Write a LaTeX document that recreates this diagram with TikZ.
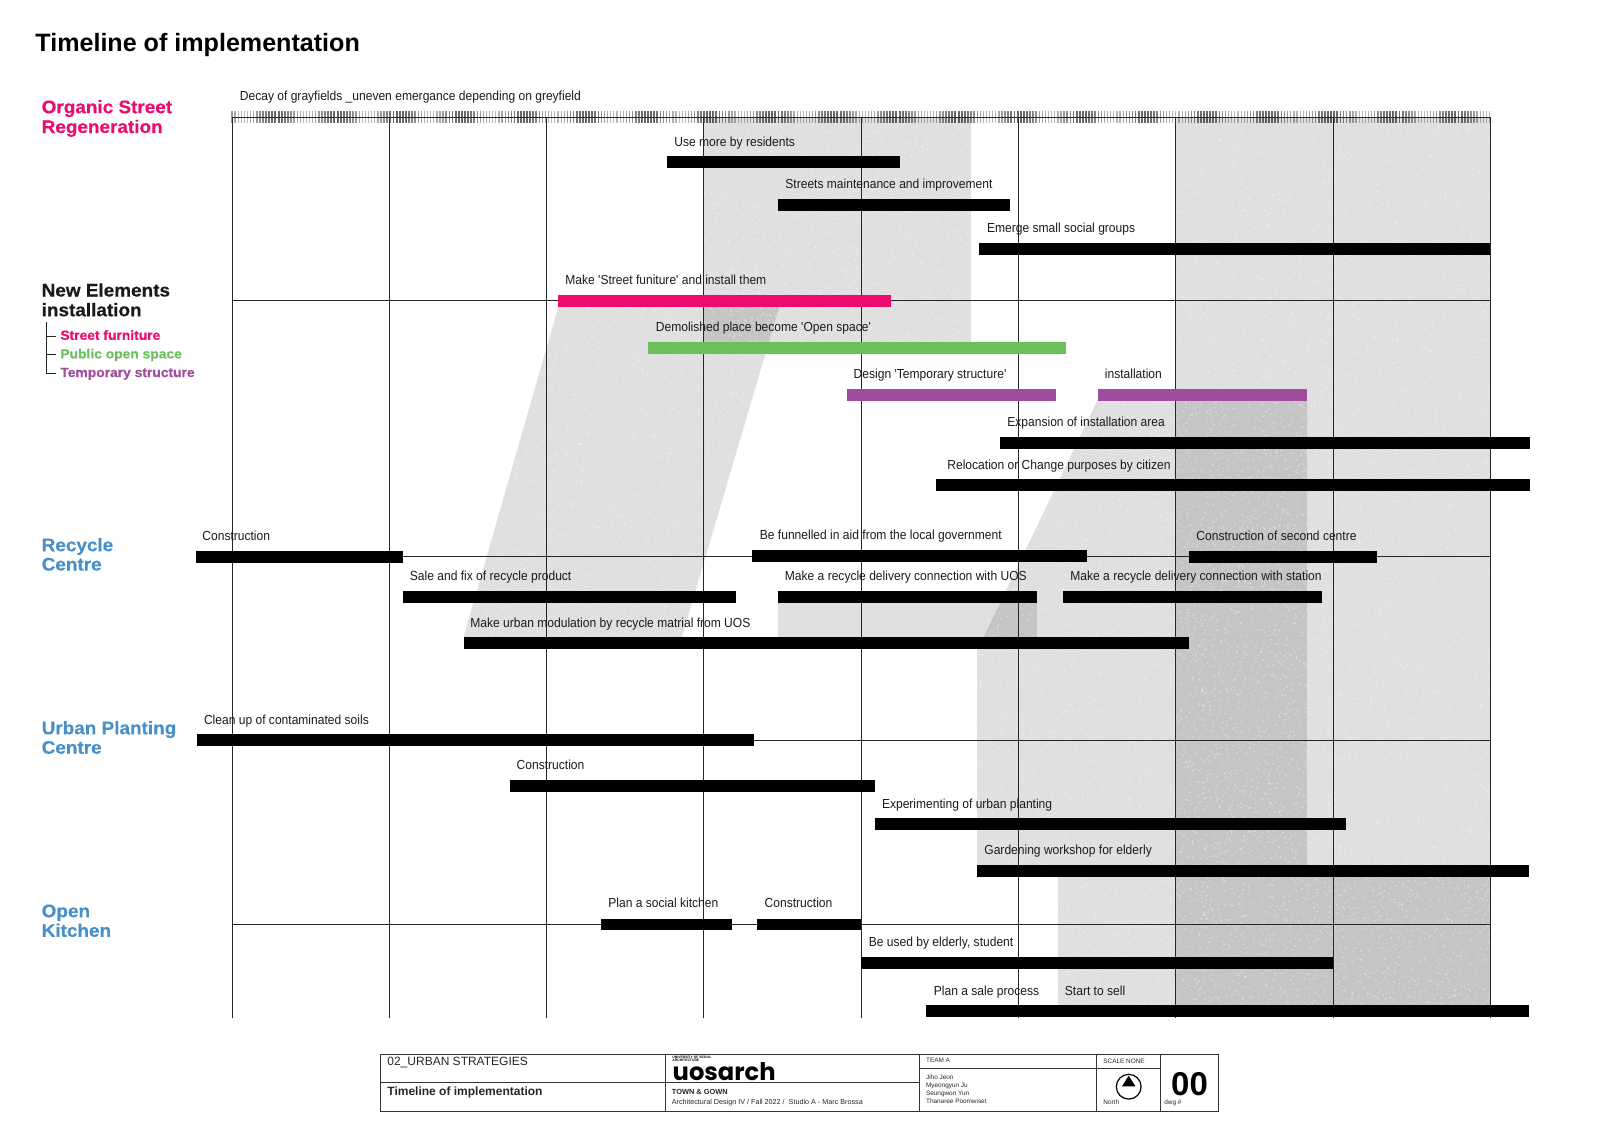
\documentclass[tikz,border=0pt]{standalone}
\usepackage{fontspec}
\setmainfont{Liberation Sans}
\newfontfamily\labfont[FakeStretch=0.92]{Liberation Sans}
\newfontfamily\headfont[FakeStretch=1.04,FakeBold=0.5]{Liberation Sans Bold}
\newfontfamily\titlefont{Liberation Sans Bold}
\newfontfamily\logofont{Poppins Bold}
\definecolor{pinkc}{HTML}{ED0B70}
\definecolor{greenc}{HTML}{6CC05C}
\definecolor{purplec}{HTML}{A04D9E}
\definecolor{bluec}{HTML}{4A90C8}
\definecolor{darkc}{HTML}{1A1A1A}
\tikzset{
  x=0.5pt,y=-0.5pt,
  region/.style={fill=black,fill opacity=0.12,draw=none},
  gridline/.style={draw=black!85,line width=0.5pt},
  blockline/.style={draw=black!80,line width=0.5pt},
  lab/.style={anchor=base west,inner sep=0pt,yshift=-0.35pt,font=\labfont\fontsize{6.55}{7}\selectfont,text=darkc},
  head/.style={anchor=base west,inner sep=0pt,font=\headfont\fontsize{9.1}{10}\selectfont},
  leg/.style={anchor=base west,inner sep=0pt,font=\headfont\fontsize{6.65}{7}\selectfont},
  tb/.style={anchor=base west,inner sep=0pt,text=black!85},
}
% #1 batches of 400 specks each
\newcommand{\specks}[5]{\foreach \b in {1,...,#1}{\fill[white,fill opacity=0.35] foreach \k in {1,...,400} {({#2+rnd*(#3-#2)},{#4+rnd*(#5-#4)}) rectangle +(1.3,1.3)};}}
\newcommand{\gbar}[4][black]{\fill[#1] (#2,#3-5.9) rectangle (#4,#3+5.9);}
\begin{document}
\begin{tikzpicture}
\useasboundingbox (0,0) rectangle (1600,1130);
\pgfmathsetseed{4242}
% grey regions
\fill[region] (704,117) rectangle (970.5,345);
\fill[region] (558.5,306) -- (779.5,306) -- (682,637) -- (463.6,637) -- cycle;
\fill[region] (778,603) rectangle (1037,637);
\fill[region] (1097.6,400) -- (1307,400) -- (1307,637) -- (983.7,637) -- cycle;
\fill[region] (977,637) rectangle (1307,865);
\fill[region] (1057.6,876) rectangle (1490,1011);
\fill[region] (1176,117) rectangle (1490,1011);
% grain
\specks{3}{704}{970}{117}{345}
\begin{scope}
\clip (558.5,306) -- (779.5,306) -- (682,637) -- (463.6,637) -- cycle;
\specks{4}{463}{780}{306}{637}
\end{scope}
\begin{scope}
\clip (1097.6,400) -- (1307,400) -- (1307,637) -- (983.7,637) -- cycle;
\specks{3}{983}{1307}{400}{637}
\end{scope}
\specks{3}{977}{1307}{637}{865}
\specks{2}{1058}{1490}{876}{1011}
\specks{11}{1176}{1490}{117}{1011}
% tick band
\foreach \i in {0,...,405}{
  \pgfmathsetmacro\tw{0.55+0.45*(0.5+0.5*sin(\i*18-162))}
  \pgfmathsetmacro\to{0.28+0.32*(0.5+0.5*sin(\i*18-162))}
  \pgfmathsetmacro\tx{232+\i*3.105}
  \draw[black,draw opacity=\to,line width=\tw pt] (\tx,111) -- (\tx,123);
}
% grid
\foreach \i in {0,...,8}{
  \pgfmathsetmacro\gx{232+\i*157.3}
  \draw[gridline] (\gx,117) -- (\gx,1018);
}
\foreach \gy in {117,300.7,556,740.5,924.4}{
  \draw[gridline] (232,\gy) -- (1490.4,\gy);
}
% bars
\gbar{667}{162}{900.3}
\gbar{778}{204.7}{1010.2}
\gbar{978.7}{249}{1490}
\gbar[pinkc]{558.2}{300.7}{890.8}
\gbar[greenc]{648.4}{348}{1065.8}
\gbar[purplec]{846.6}{395}{1055.5}
\gbar[purplec]{1097.6}{395}{1307}
\gbar{999.7}{443.3}{1529.6}
\gbar{936.3}{485.3}{1529.6}
\gbar{196}{556.7}{402.9}
\gbar{752.4}{556.2}{1086.5}
\gbar{1189}{556.7}{1376.7}
\gbar{402.9}{597.3}{736.3}
\gbar{777.9}{597.3}{1037}
\gbar{1063.3}{597.3}{1322.4}
\gbar{463.6}{643.3}{1189}
\gbar{197}{740.3}{754}
\gbar{510}{785.7}{874.5}
\gbar{874.5}{824.3}{1346}
\gbar{977}{870.7}{1529.4}
\gbar{600.5}{924.5}{732}
\gbar{757}{924.5}{861}
\gbar{861}{963}{1333}
\gbar{926}{1011.3}{1529.4}
% title
\node[anchor=base west,inner sep=0pt,font=\titlefont\fontsize{12.55}{15}\selectfont] (title) at (35,51) {Timeline of implementation};
% headings
\node[head,text=pinkc] (h1a) at (41.3,113.2) {Organic Street};
\node[head,text=pinkc] (h1b) at (41.3,133) {Regeneration};
\node[head,text=darkc] (h2a) at (41.3,296.5) {New Elements};
\node[head,text=darkc] (h2b) at (41.3,316.2) {installation};
\node[head,text=bluec] (h3a) at (41.3,551.2) {Recycle};
\node[head,text=bluec] (h3b) at (41.3,570.5) {Centre};
\node[head,text=bluec] (h4a) at (41.3,734.2) {Urban Planting};
\node[head,text=bluec] (h4b) at (41.3,753.7) {Centre};
\node[head,text=bluec] (h5a) at (41.3,917.2) {Open};
\node[head,text=bluec] (h5b) at (41.3,936.8) {Kitchen};
% legend
\node[leg,text=pinkc] (l1) at (60,339.8) {Street furniture};
\node[leg,text=greenc] (l2) at (60,358.4) {Public open space};
\node[leg,text=purplec] (l3) at (60,377) {Temporary structure};
\coordinate (lt) at (46,322);
\coordinate (lm1) at (46,336);
\coordinate (lm2) at (46,354.5);
\coordinate (lm3) at (46,373);
\draw[gridline] (lt) -- (lm3) -- ++(9.5,0);
\draw[gridline] (lm1) -- ++(9.5,0);
\draw[gridline] (lm2) -- ++(9.5,0);
% labels
\node[lab] (t1) at (239.5,100) {Decay of grayfields \_uneven emergance depending on greyfield};
\node[lab] (t2) at (674,145.7) {Use more by residents};
\node[lab] (t3) at (785,188) {Streets maintenance and improvement};
\node[lab] (t4) at (986.7,232) {Emerge small social groups};
\node[lab] (t5) at (565,283.5) {Make 'Street funiture' and install them};
\node[lab] (t6) at (655.5,331) {Demolished place become 'Open space'};
\node[lab] (t7) at (853.3,378) {Design 'Temporary structure'};
\node[lab] (t8) at (1104.5,378) {installation};
\node[lab] (t9) at (1007,425.7) {Expansion of installation area};
\node[lab] (t10) at (947,468.7) {Relocation or Change purposes by citizen};
\node[lab] (t11) at (202,539.7) {Construction};
\node[lab] (t12) at (759.5,538.7) {Be funnelled in aid from the local government};
\node[lab] (t13) at (1196,539.5) {Construction of second centre};
\node[lab] (t14) at (409.5,580) {Sale and fix of recycle product};
\node[lab] (t15) at (784.5,580) {Make a recycle delivery connection with UOS};
\node[lab] (t16) at (1070,580) {Make a recycle delivery connection with station};
\node[lab] (t17) at (470,626.3) {Make urban modulation by recycle matrial from UOS};
\node[lab] (t18) at (203.6,723.4) {Clean up of contaminated soils};
\node[lab] (t19) at (516.3,768.3) {Construction};
\node[lab] (t20) at (881.6,807.7) {Experimenting of urban planting};
\node[lab] (t21) at (984,853.7) {Gardening workshop for elderly};
\node[lab] (t22) at (608,907) {Plan a social kitchen};
\node[lab] (t23) at (764.3,907) {Construction};
\node[lab] (t24) at (868.4,946) {Be used by elderly, student};
\node[lab] (t25) at (933.5,994.7) {Plan a sale process};
\node[lab] (t26) at (1064.5,994.7) {Start to sell};
% title block
\draw[blockline] (380.8,1054) rectangle (1218.6,1111);
\draw[blockline] (380.8,1082.3) -- (919.5,1082.3);
\draw[blockline] (919.5,1068.7) -- (1160.8,1068.7);
\foreach \vx in {665.8,919.5,1096,1160.8}{\draw[blockline] (\vx,1054) -- (\vx,1111);}
\node[tb,font=\fontsize{6}{7}\selectfont] (b1) at (387,1065.5) {02\_URBAN STRATEGIES};
\node[tb,font=\bfseries\fontsize{6}{7}\selectfont] (b2) at (387,1095.8) {Timeline of implementation};
\node[tb,font=\logofont\fontsize{12.1}{14}\selectfont,text=black] (logo) at (672.3,1080) {uosarch};
\node[tb,font=\bfseries\fontsize{1.7}{2}\selectfont,text=black] (u1) at (672,1058.5) {UNIVERSITY OF SEOUL};
\node[tb,font=\bfseries\fontsize{1.7}{2}\selectfont,text=black] (u2) at (672,1061) {ARCHITECTURE};
\node[tb,font=\bfseries\fontsize{3.7}{5}\selectfont] (b3) at (671.5,1094.5) {TOWN \& GOWN};
\node[tb,font=\fontsize{3.6}{5}\selectfont] (b4) at (671.5,1104.8) {Architectural Design IV / Fall 2022 /\ \ Studio A - Marc Brossa};
\node[tb,font=\fontsize{3.2}{4}\selectfont] (b5) at (925.7,1062.7) {TEAM A};
\node[tb,font=\fontsize{3.2}{4}\selectfont] (n1) at (925.7,1079) {Jiho Jeon};
\node[tb,font=\fontsize{3.2}{4}\selectfont] (n2) at (925.7,1087) {Myeongyun Ju};
\node[tb,font=\fontsize{3.2}{4}\selectfont] (n3) at (925.7,1095) {Seungwon Yun};
\node[tb,font=\fontsize{3.2}{4}\selectfont] (n4) at (925.7,1103.4) {Thanaree Poomwiset};
\node[tb,font=\fontsize{3.2}{4}\selectfont] (b6) at (1103,1063.2) {SCALE NONE};
\node[tb,font=\fontsize{3.2}{4}\selectfont] (b7) at (1103,1104.5) {North};
\node[tb,font=\fontsize{3.2}{4}\selectfont] (b8) at (1164,1104.5) {dwg \#};
\node[anchor=base,inner sep=0pt,font=\bfseries\fontsize{16.5}{18}\selectfont] (b9) at (1189.5,1095) {00};
\node[draw=black,line width=0.6pt,circle,minimum size=12.4pt,inner sep=0pt] (north) at (1128.7,1086.7) {};
\fill[black] (1128.7,1075.7) -- (1135.5,1086.3) -- (1122,1086.3) -- cycle;
\end{tikzpicture}
\end{document}
